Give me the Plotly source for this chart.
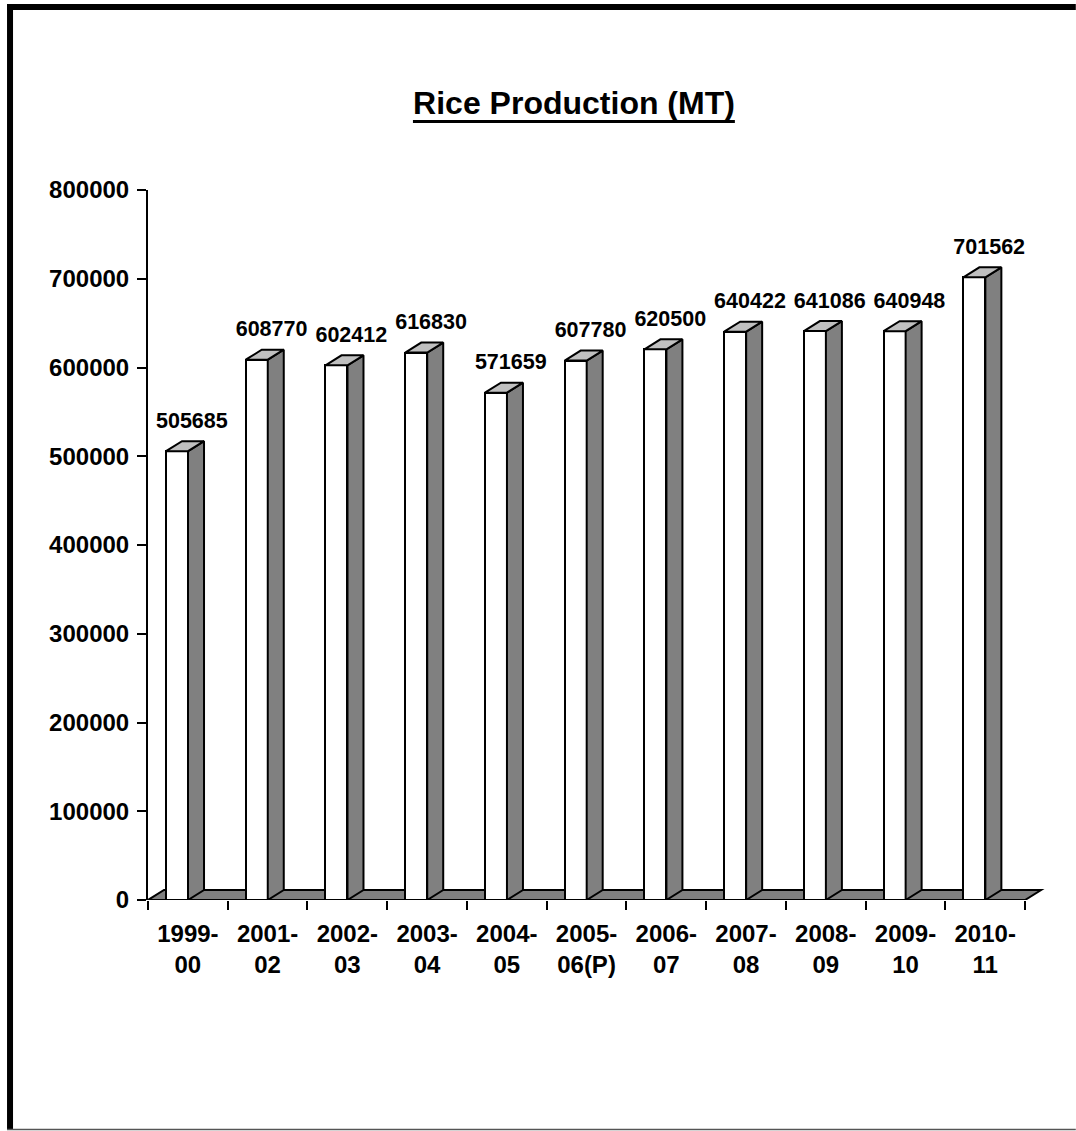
import plotly.graph_objects as go

# ---------------- data ----------------
categories = ["1999-00", "2001-02", "2002-03", "2003-04", "2004-05", "2005-06(P)",
              "2006-07", "2007-08", "2008-09", "2009-10", "2010-11"]
values = [505685, 608770, 602412, 616830, 571659, 607780,
          620500, 640422, 641086, 640948, 701562]
y_ticks = [0, 100000, 200000, 300000, 400000, 500000, 600000, 700000, 800000]

# ---------------- layout constants (pixels) ----------------
W, H = 1076, 1131
CAT_PX = 79.75          # pixel width of one category
L_PX = 148              # left of plot area
T_PX = 190              # top of plot area (800000)
B_PX = 900              # bottom of plot area (0)
X_EXTRA = 0.25          # extra range on right for the 3D floor overhang
n = len(categories)
x_min, x_max = -0.5, n - 0.5 + X_EXTRA
R_PX = L_PX + (x_max - x_min) * CAT_PX
Y_MAX = y_ticks[-1]
PX_Y = Y_MAX / (B_PX - T_PX)    # value units per pixel

BAR_OFFSET = -0.274     # front-face left edge relative to category centre
BAR_WIDTH = 0.276       # front-face width (category units)
DEPTH_X = 16 / CAT_PX   # 3D depth in x units
DEPTH_Y = 10 * PX_Y     # 3D depth in y units

FONT = "Liberation Sans, Arial, sans-serif"


def px_x(px):
    return (px - L_PX) / (R_PX - L_PX)


def px_y(py):
    return (B_PX - py) / (B_PX - T_PX)


idx = list(range(n))
ticktext = [c.replace("-", "-<br>", 1) for c in categories]

fig = go.Figure()

# front faces
fig.add_trace(go.Bar(
    x=idx, y=values, width=BAR_WIDTH, offset=BAR_OFFSET,
    marker=dict(color="white", line=dict(color="black", width=2)),
    showlegend=False, hoverinfo="skip",
))

# side and top faces derived from the data
for i, v in zip(idx, values):
    xl = i + BAR_OFFSET
    xr = xl + BAR_WIDTH
    fig.add_trace(go.Scatter(
        x=[xr, xr + DEPTH_X, xr + DEPTH_X, xr, xr],
        y=[0, DEPTH_Y, v + DEPTH_Y, v, 0],
        mode="lines", fill="toself", fillcolor="#808080",
        line=dict(color="black", width=2), showlegend=False, hoverinfo="skip",
    ))
    fig.add_trace(go.Scatter(
        x=[xl, xl + DEPTH_X, xr + DEPTH_X, xr, xl],
        y=[v, v + DEPTH_Y, v + DEPTH_Y, v, v],
        mode="lines", fill="toself", fillcolor="#C0C0C0",
        line=dict(color="black", width=2), showlegend=False, hoverinfo="skip",
    ))

# value labels
fig.add_trace(go.Scatter(
    x=[i + 0.05 for i in idx],
    y=[v + DEPTH_Y + 8 * PX_Y for v in values],
    mode="text", text=[str(v) for v in values], textposition="top center",
    textfont=dict(family=FONT, size=21.5, color="black", weight="bold"),
    showlegend=False, hoverinfo="skip", cliponaxis=False,
))

shapes = []
# floor
shapes.append(dict(
    type="path", xref="x", yref="y", layer="below",
    path=(f"M {x_min},0 L {x_min + DEPTH_X},{DEPTH_Y} "
          f"L {n - 0.5 + DEPTH_X},{DEPTH_Y} L {n - 0.5},0 Z"),
    fillcolor="#808080", line=dict(color="black", width=2),
))
# category axis line
shapes.append(dict(type="line", xref="x", yref="y", x0=x_min, x1=n - 0.5, y0=0, y1=0,
                   line=dict(color="black", width=2), layer="above"))
# page border
shapes.append(dict(type="rect", xref="paper", yref="paper",
                   x0=px_x(7), x1=px_x(W), y0=px_y(10), y1=px_y(4),
                   fillcolor="black", line=dict(width=0)))
shapes.append(dict(type="rect", xref="paper", yref="paper",
                   x0=px_x(7), x1=px_x(13), y0=px_y(1129), y1=px_y(4),
                   fillcolor="black", line=dict(width=0)))
shapes.append(dict(type="line", xref="paper", yref="paper",
                   x0=px_x(7), x1=px_x(W), y0=px_y(1129.5), y1=px_y(1129.5),
                   line=dict(color="#555555", width=1.5)))
# title underline
shapes.append(dict(type="line", xref="paper", yref="paper",
                   x0=px_x(413), x1=px_x(735), y0=px_y(121.5), y1=px_y(121.5),
                   line=dict(color="black", width=3)))

fig.update_layout(
    width=W, height=H,
    margin=dict(l=L_PX, r=W - R_PX, t=T_PX, b=H - B_PX, pad=0),
    paper_bgcolor="white", plot_bgcolor="white",
    title=dict(text="<b>Rice Production (MT)</b>", x=574 / W, xanchor="center",
               y=1 - 103 / H, yanchor="middle", xref="container", yref="container",
               font=dict(family=FONT, size=32, color="black")),
    shapes=shapes,
    showlegend=False,
    bargap=0,
)
fig.update_xaxes(
    type="linear", range=[x_min, x_max], tickvals=idx, ticktext=ticktext,
    ticks="", showgrid=False, zeroline=False, showline=False,
    tickfont=dict(family=FONT, size=24, color="black", weight="bold"),
    ticklabelstandoff=17,
    minor=dict(tickvals=[i - 0.5 for i in range(n + 1)], ticks="outside",
               ticklen=9, tickwidth=2, tickcolor="black", showgrid=False),
)
fig.update_yaxes(
    range=[0, Y_MAX], tickvals=y_ticks, ticktext=[str(t) for t in y_ticks],
    ticks="outside", ticklen=9, tickwidth=2, tickcolor="black",
    showline=True, linecolor="black", linewidth=2, showgrid=False, zeroline=False,
    tickfont=dict(family=FONT, size=24, color="black", weight="bold"),
    ticklabelstandoff=3,
)

fig.write_html("out.html", config={"displayModeBar": False},
               post_script="document.body.style.margin='0';")
